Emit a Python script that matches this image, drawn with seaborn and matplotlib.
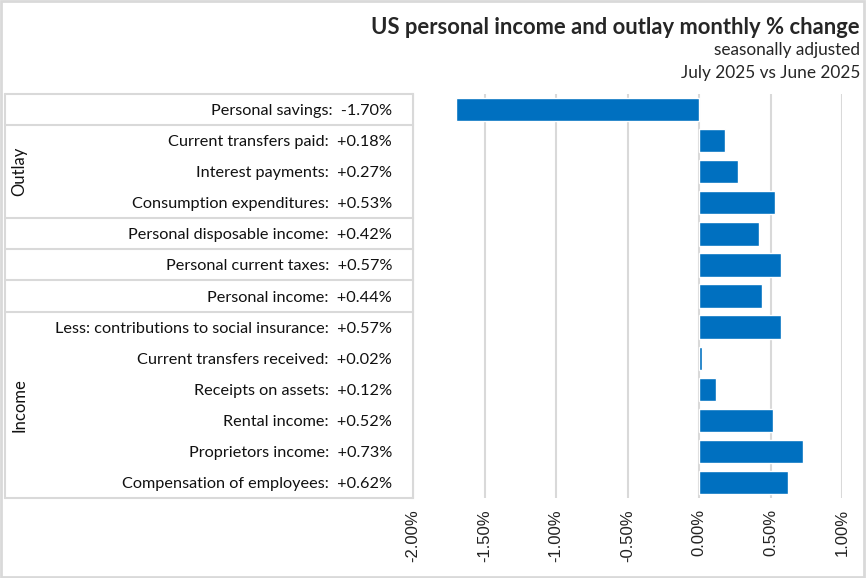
import numpy as np
import pandas as pd
import matplotlib
matplotlib.use("Agg")
import matplotlib.pyplot as plt
import matplotlib.transforms as mtrans
from matplotlib.ticker import FuncFormatter
from matplotlib.patches import Rectangle
import seaborn as sns

# data (top to bottom)
names = [
    "Personal savings",
    "Current transfers paid",
    "Interest payments",
    "Consumption expenditures",
    "Personal disposable income",
    "Personal current taxes",
    "Personal income",
    "Less: contributions to social insurance",
    "Current transfers received",
    "Receipts on assets",
    "Rental income",
    "Proprietors income",
    "Compensation of employees",
]
values = [-1.70, 0.18, 0.27, 0.53, 0.42, 0.57, 0.44, 0.57, 0.02, 0.12, 0.52, 0.73, 0.62]
x_ticks = [-2.0, -1.5, -1.0, -0.5, 0.0, 0.5, 1.0]
groups = [("Outlay", 1, 3), ("Income", 7, 12)]
separators = [-0.5, 0.5, 3.5, 4.5, 5.5, 6.5, 12.5]

labels = [f"{n}:  {v:+.2f}%" for n, v in zip(names, values)]
df = pd.DataFrame({"label": labels, "value": values})

sns.set_style("white")
plt.rcParams["font.family"] = ["Lato", "DejaVu Sans"]

W, H = 866, 578
fig = plt.figure(figsize=(W / 100, H / 100), dpi=100)
ax = fig.add_axes([413 / W, 1 - 498 / H, (842 - 413) / W, (498 - 94) / H])

sns.barplot(data=df, x="value", y="label", orient="h", color="#0070C0",
            saturation=1, width=0.75, ax=ax, zorder=3)

ax.set_xlim(-2.0, 1.0)
ax.set_ylim(12.5, -0.5)
ax.set_xticks(x_ticks)
ax.xaxis.set_major_formatter(FuncFormatter(lambda v, p: f"{v:.2f}%"))
ax.grid(axis="x", color="#d9d9d9", lw=1.5, zorder=0)
ax.set_xlabel("")
ax.set_ylabel("")
for s in ["top", "right", "bottom"]:
    ax.spines[s].set_visible(False)
ax.spines["left"].set_color("#d9d9d9")
ax.spines["left"].set_linewidth(1.5)
ax.tick_params(axis="x", length=4, color="#d9d9d9", width=1.5, labelsize=12,
               labelrotation=90, pad=4, labelcolor="#222222")
ax.tick_params(axis="y", length=0, labelsize=11.7, pad=15, labelcolor="#111111")
for t in ax.get_xticklabels():
    t.set_fontfamily(["Liberation Sans", "DejaVu Sans"])

# category separator lines and group labels on the left
trans = mtrans.blended_transform_factory(ax.transAxes, ax.transData)
x_left = (5 - 413) / (842 - 413)
for y in separators:
    ax.plot([x_left, 0], [y, y], transform=trans, color="#d9d9d9", lw=1.5,
            clip_on=False)
ax.plot([x_left, x_left], [-0.5, 12.5], transform=trans, color="#d9d9d9",
        lw=1.5, clip_on=False)
for name, a, b in groups:
    ax.text((19 - 413) / (842 - 413), (a + b) / 2, name, transform=trans,
            rotation=90, ha="center", va="center", fontsize=12, color="#111111")

# titles
fig.text(860 / W, 1 - 28 / H, "US personal income and outlay monthly % change",
         ha="right", va="center", fontsize=15.8, fontweight="bold")
fig.text(860 / W, 1 - 50 / H, "seasonally adjusted", ha="right", va="center",
         fontsize=12.4)
fig.text(860 / W, 1 - 73 / H, "July 2025 vs June 2025", ha="right", va="center",
         fontsize=12.4)

# outer frame
fig.patches.append(Rectangle((0.001, 0.001), 0.997, 0.997, transform=fig.transFigure,
                             fill=False, edgecolor="#d9d9d9", lw=2))

fig.savefig("out.png", dpi=100)
